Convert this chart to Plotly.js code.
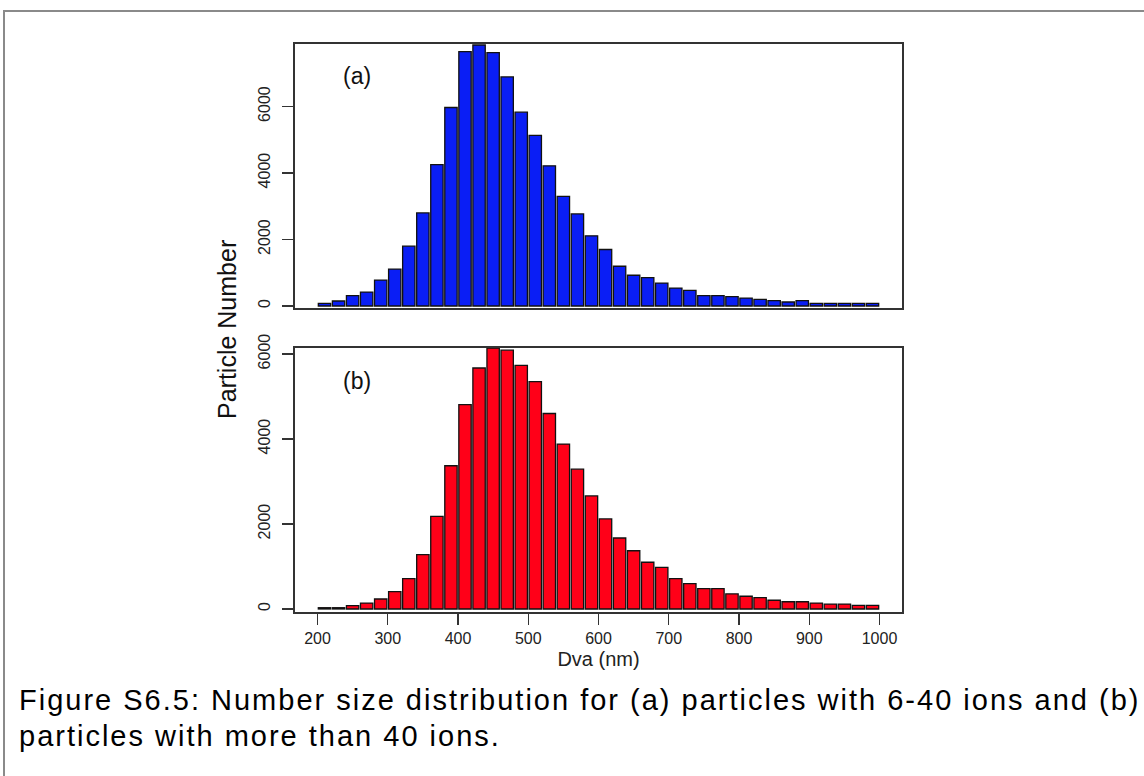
<!DOCTYPE html>
<html>
<head>
<meta charset="utf-8">
<script src="https://cdn.plot.ly/plotly-3.0.1.min.js"></script>
<style>
  html, body { margin: 0; padding: 0; background: #ffffff; }
  #chart { width: 1144px; height: 776px; }
  text.annotation-text[style*="Liberation Sans Caption"] { letter-spacing: 2px; }
</style>
</head>
<body>
<div id="chart"></div>
<script>
// Bin centres of the 20 nm Dva bins (200-1000 nm)
const binCentres = [210,230,250,270,290,310,330,350,370,390,
                    410,430,450,470,490,510,530,550,570,590,
                    610,630,650,670,690,710,730,750,770,790,
                    810,830,850,870,890,910,930,950,970,990];

// (a) particles with 6-40 ions
const countsA = [80,150,310,420,780,1110,1800,2800,4250,5970,
                 7650,7850,7620,6890,5830,5130,4215,3300,2770,2110,
                 1700,1195,925,855,690,540,470,310,310,280,
                 240,200,160,120,160,80,80,80,80,80];

// (b) particles with more than 40 ions
const countsB = [30,30,80,140,235,410,715,1280,2180,3370,
                 4810,5670,6140,6090,5730,5350,4600,3880,3290,2660,
                 2120,1670,1370,1100,980,715,595,480,480,355,
                 300,265,205,170,170,140,115,115,85,85];

const xTickVals = [200,300,400,500,600,700,800,900,1000];
const xTickText = ['200','300','400','500','600','700','800','900','1000'];
const yTickVals = [0,2000,4000,6000];
const yTickText = ['0','2000','4000','6000'];

const panelLabels = ['(a)', '(b)'];
const xTitle = 'Dva (nm)';
const yTitle = 'Particle Number';
const captionLines = [
  'Figure S6.5: Number size distribution for (a) particles with 6-40 ions and (b)',
  'particles with more than 40 ions.'
];

// ---- layout geometry (pixels) ----
const W = 1144, H = 776;
const L = 295, R = 902, T = 44, B = 612;
const pw = R - L, ph = B - T;
const px = x => (x - L) / pw;
const py = y => (B - y) / ph;

const barLine = {color: '#111111', width: 1.3};
const traces = [
  {type: 'bar', x: binCentres, y: countsA, xaxis: 'x', yaxis: 'y',
   marker: {color: '#0a1ef5', line: barLine}, hoverinfo: 'x+y'},
  {type: 'bar', x: binCentres, y: countsB, xaxis: 'x2', yaxis: 'y2',
   marker: {color: '#ff0018', line: barLine}, hoverinfo: 'x+y'}
];

const sans = 'Liberation Sans, Arial, sans-serif';
const axisFont = {family: sans, size: 16, color: '#222222'};
const frame = {showline: true, linecolor: '#333333', linewidth: 1.6, mirror: true,
               showgrid: false, zeroline: false};

const layout = {
  width: W, height: H,
  margin: {l: L, r: W - R, t: T, b: H - B, pad: 0},
  paper_bgcolor: '#ffffff', plot_bgcolor: '#ffffff',
  showlegend: false, bargap: 0.12,
  xaxis: Object.assign({}, frame, {domain: [0, 1], anchor: 'y', range: [168, 1032],
    showticklabels: false, ticks: ''}),
  yaxis: Object.assign({}, frame, {domain: [py(308), 1], anchor: 'x', range: [-60, 7880],
    tickvals: yTickVals, ticktext: yTickText, ticks: 'outside', ticklen: 11,
    tickcolor: '#333333', tickwidth: 1.3, tickangle: -90, tickfont: axisFont,
    ticklabelstandoff: 6}),
  xaxis2: Object.assign({}, frame, {domain: [0, 1], anchor: 'y2', range: [168, 1032],
    tickvals: xTickVals, ticktext: xTickText, ticks: 'outside', ticklen: 11,
    tickcolor: '#333333', tickwidth: 1.3, tickfont: axisFont,
    title: {text: xTitle, font: {family: sans, size: 20, color: '#222222'}, standoff: 6}}),
  yaxis2: Object.assign({}, frame, {domain: [0, py(348)], anchor: 'x2', range: [-71, 6141],
    tickvals: yTickVals, ticktext: yTickText, ticks: 'outside', ticklen: 11,
    tickcolor: '#333333', tickwidth: 1.3, tickangle: -90, tickfont: axisFont,
    ticklabelstandoff: 6}),
  annotations: [
    {text: panelLabels[0], xref: 'paper', yref: 'paper', x: px(357), y: py(76),
     xanchor: 'center', yanchor: 'middle', showarrow: false,
     font: {family: sans, size: 23, color: '#111111'}},
    {text: panelLabels[1], xref: 'paper', yref: 'paper', x: px(357), y: py(381),
     xanchor: 'center', yanchor: 'middle', showarrow: false,
     font: {family: sans, size: 23, color: '#111111'}},
    {text: yTitle, xref: 'paper', yref: 'paper', x: px(227), y: py(330), textangle: -90,
     xanchor: 'center', yanchor: 'middle', showarrow: false,
     font: {family: sans, size: 25, color: '#111111'}},
    {text: captionLines[0], xref: 'paper', yref: 'paper', x: px(17), y: py(700),
     xanchor: 'left', yanchor: 'middle', showarrow: false,
     font: {family: 'Liberation Sans Caption, Liberation Sans, Arial', size: 29, color: '#000000'}},
    {text: captionLines[1], xref: 'paper', yref: 'paper', x: px(17), y: py(736),
     xanchor: 'left', yanchor: 'middle', showarrow: false,
     font: {family: 'Liberation Sans Caption, Liberation Sans, Arial', size: 29, color: '#000000'}}
  ],
  shapes: [
    {type: 'line', xref: 'paper', yref: 'paper', x0: px(3), x1: px(1144), y0: py(11), y1: py(11),
     line: {color: '#8a8a8a', width: 2}},
    {type: 'line', xref: 'paper', yref: 'paper', x0: px(4), x1: px(4), y0: py(10), y1: py(776),
     line: {color: '#8a8a8a', width: 2}}
  ]
};

Plotly.newPlot('chart', traces, layout, {displayModeBar: false, staticPlot: true});
</script>
</body>
</html>
